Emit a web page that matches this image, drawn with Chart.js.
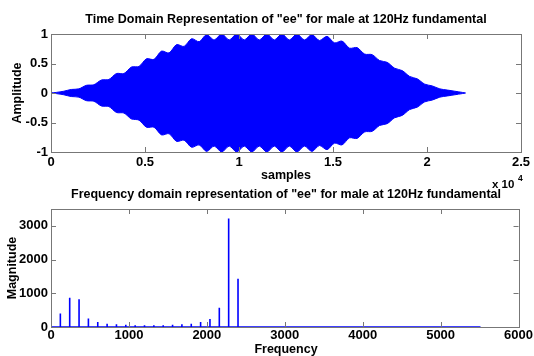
<!DOCTYPE html>
<html>
<head>
<meta charset="utf-8">
<script src="https://cdn.jsdelivr.net/npm/chart.js@4.4.0/dist/chart.umd.min.js"></script>
<style>
  html, body { margin: 0; padding: 0; background: #fff; }
  #wrap { position: relative; width: 534px; height: 356px; }
  #wrap canvas { position: absolute; left: 0; top: 0; }
</style>
</head>
<body>
<div id="wrap">
  <canvas id="timeChart" width="534" height="356"></canvas>
  <canvas id="freqChart" width="534" height="356"></canvas>
</div>
<script>
/* ---------- data ---------- */
// time domain: outline of the waveform (sample index, upper and lower amplitude)
const envX = [0, 280, 680, 1080, 1480, 1880, 2280, 2680, 3080, 3480, 3880, 4280, 4680, 5080, 5480,
  5880, 6280, 6680, 7080, 7480, 7880, 8280, 8680, 9080, 9480, 9880, 10280, 10680, 11080, 11480,
  11880, 12280, 12680, 13080, 13480, 13880, 14280, 14680, 15080, 15480, 15880, 16280, 16680, 17080,
  17480, 17880, 18280, 18680, 19080, 19480, 19880, 20280, 20680, 21080, 21480, 21880, 22050];
const envTop = [0, 0.01, 0.03, 0.06, 0.07, 0.13, 0.14, 0.22, 0.23, 0.33, 0.33, 0.44, 0.45, 0.58, 0.57,
  0.71, 0.68, 0.82, 0.79, 0.92, 0.87, 0.99, 0.90, 1.0, 0.90, 1.0, 0.90, 1.0, 0.90, 1.0,
  0.90, 1.0, 0.90, 1.0, 0.90, 0.99, 0.89, 0.96, 0.85, 0.88, 0.76, 0.77, 0.66, 0.65,
  0.55, 0.52, 0.42, 0.38, 0.28, 0.24, 0.15, 0.12, 0.07, 0.05, 0.03, 0.01, 0];
const envBottom = [0, -0.01, -0.03, -0.06, -0.07, -0.13, -0.14, -0.22, -0.23, -0.33, -0.34, -0.44, -0.46, -0.58, -0.58,
  -0.71, -0.69, -0.82, -0.80, -0.92, -0.88, -0.99, -0.90, -1.0, -0.90, -1.0, -0.90, -1.0, -0.90, -1.0,
  -0.90, -1.0, -0.90, -1.0, -0.90, -0.99, -0.89, -0.96, -0.85, -0.88, -0.76, -0.77, -0.66, -0.65,
  -0.55, -0.52, -0.42, -0.38, -0.28, -0.24, -0.15, -0.12, -0.07, -0.05, -0.03, -0.01, 0];

// frequency domain: harmonics of 120 Hz and their magnitudes
const harmonicFreq = [120, 240, 360, 480, 600, 720, 840, 960, 1080, 1200, 1320, 1440, 1560, 1680,
  1800, 1920, 2040, 2160, 2280, 2400];
const harmonicMag = [400, 870, 820, 250, 150, 100, 80, 70, 50, 50, 50, 50, 70, 80,
  100, 150, 240, 570, 3220, 1430];
const spectrumEnd = 5512;

// ticks
const timeXTicks = [0, 5000, 10000, 15000, 20000, 25000];
const timeYTicks = [-1, -0.5, 0, 0.5, 1];
const freqXTicks = [0, 1000, 2000, 3000, 4000, 5000, 6000];
const freqYTicks = [0, 1000, 2000, 3000];

/* ---------- helpers ---------- */
const FONT = "'Liberation Sans', Arial, Helvetica, sans-serif";
const BLUE = '#0000ff';
const AXIS = '#777777';

function fixedTicks(list){
  return scale => { scale.ticks = list.map(v => ({ value: v })); };
}

// matlab-ish box with inward ticks + text labels
function axesPlugin(texts){
  return {
    id: 'matlabAxes',
    afterDraw(chart){
      const { ctx, chartArea: a, scales } = chart;
      const len = 5;
      ctx.save();
      ctx.strokeStyle = AXIS;
      ctx.lineWidth = 1;
      ctx.beginPath();
      scales.x.ticks.forEach(t => {
        const px = Math.round(scales.x.getPixelForValue(t.value)) + 0.5;
        ctx.moveTo(px, a.bottom); ctx.lineTo(px, a.bottom - len);
        ctx.moveTo(px, a.top); ctx.lineTo(px, a.top + len);
      });
      scales.y.ticks.forEach(t => {
        const py = Math.round(scales.y.getPixelForValue(t.value)) + 0.5;
        ctx.moveTo(a.left, py); ctx.lineTo(a.left + len, py);
        ctx.moveTo(a.right, py); ctx.lineTo(a.right - len, py);
      });
      ctx.stroke();
      ctx.strokeRect(Math.round(a.left) + 0.5, Math.round(a.top) + 0.5,
        Math.round(a.right - a.left), Math.round(a.bottom - a.top));

      ctx.fillStyle = '#000';
      texts.forEach(t => {
        ctx.save();
        ctx.font = `bold ${t.size}px ${FONT}`;
        ctx.textAlign = t.align || 'center';
        ctx.textBaseline = t.baseline || 'middle';
        ctx.translate(t.x, t.y);
        if (t.rotate) ctx.rotate(-Math.PI / 2);
        ctx.fillText(t.text, 0, 0);
        ctx.restore();
      });
      ctx.restore();
    }
  };
}

function baseOptions(area, xMin, xMax, yMin, yMax, xTicks, yTicks, xFmt){
  return {
    responsive: false,
    animation: false,
    devicePixelRatio: 1,
    layout: { padding: { left: 0, right: 534 - area.right, top: area.top, bottom: 0 } },
    plugins: { legend: { display: false }, tooltip: { enabled: false } },
    elements: { point: { radius: 0 } },
    scales: {
      x: {
        type: 'linear', min: xMin, max: xMax,
        afterBuildTicks: fixedTicks(xTicks),
        afterFit: s => { s.height = 356 - area.bottom; },
        grid: { display: false, drawTicks: false },
        border: { display: false },
        ticks: { padding: area.xPad, maxRotation: 0, autoSkip: false, color: '#000',
          font: { family: FONT, size: 13, weight: 'bold' }, callback: xFmt }
      },
      y: {
        type: 'linear', min: yMin, max: yMax,
        afterBuildTicks: fixedTicks(yTicks),
        afterFit: s => { s.width = area.left; },
        grid: { display: false, drawTicks: false },
        border: { display: false },
        ticks: { padding: 3, color: '#000', font: { family: FONT, size: 13, weight: 'bold' },
          callback: v => String(v) }
      }
    }
  };
}

/* ---------- time domain chart ---------- */
const topArea = { left: 51, right: 521, top: 34, bottom: 152, xPad: 3 };
new Chart(document.getElementById('timeChart'), {
  type: 'line',
  data: {
    datasets: [
      { data: envX.map((x, i) => ({ x, y: envTop[i] })), borderColor: BLUE, backgroundColor: BLUE,
        borderWidth: 1, fill: 'origin', tension: 0.3 },
      { data: envX.map((x, i) => ({ x, y: envBottom[i] })), borderColor: BLUE, backgroundColor: BLUE,
        borderWidth: 1, fill: 'origin', tension: 0.3 }
    ]
  },
  options: baseOptions(topArea, 0, 25000, -1, 1, timeXTicks, timeYTicks, v => String(v / 10000)),
  plugins: [axesPlugin([
    { text: 'Time Domain Representation of "ee" for male at 120Hz fundamental', x: 286, y: 20, size: 12.5 },
    { text: 'samples', x: 286, y: 176, size: 12.5 },
    { text: 'Amplitude', x: 18, y: 93, size: 12.5, rotate: true },
    { text: 'x 10', x: 492, y: 188, size: 11.5, align: 'left', baseline: 'alphabetic' },
    { text: '4', x: 518, y: 181, size: 8.5, align: 'left', baseline: 'alphabetic' }
  ])]
});

/* ---------- frequency domain chart ---------- */
const stemPoints = [{ x: 0, y: 0 }];
harmonicFreq.forEach((f, i) => {
  stemPoints.push({ x: f, y: 0 }, { x: f, y: harmonicMag[i] }, { x: f, y: 0 });
});
stemPoints.push({ x: spectrumEnd, y: 0 });

const botArea = { left: 51, right: 521, top: 209, bottom: 327, xPad: 1 };
new Chart(document.getElementById('freqChart'), {
  type: 'line',
  data: {
    datasets: [
      { data: stemPoints, borderColor: BLUE, borderWidth: 1.6, fill: false, tension: 0,
        borderJoinStyle: 'bevel', clip: false }
    ]
  },
  options: baseOptions(botArea, 0, 6000, 0, 3500, freqXTicks, freqYTicks, v => String(v)),
  plugins: [axesPlugin([
    { text: 'Frequency domain representation of "ee" for male at 120Hz fundamental', x: 286, y: 195, size: 12.5 },
    { text: 'Frequency', x: 286, y: 350, size: 12.5 },
    { text: 'Magnitude', x: 13, y: 268, size: 12.5, rotate: true }
  ])]
});
</script>
</body>
</html>
